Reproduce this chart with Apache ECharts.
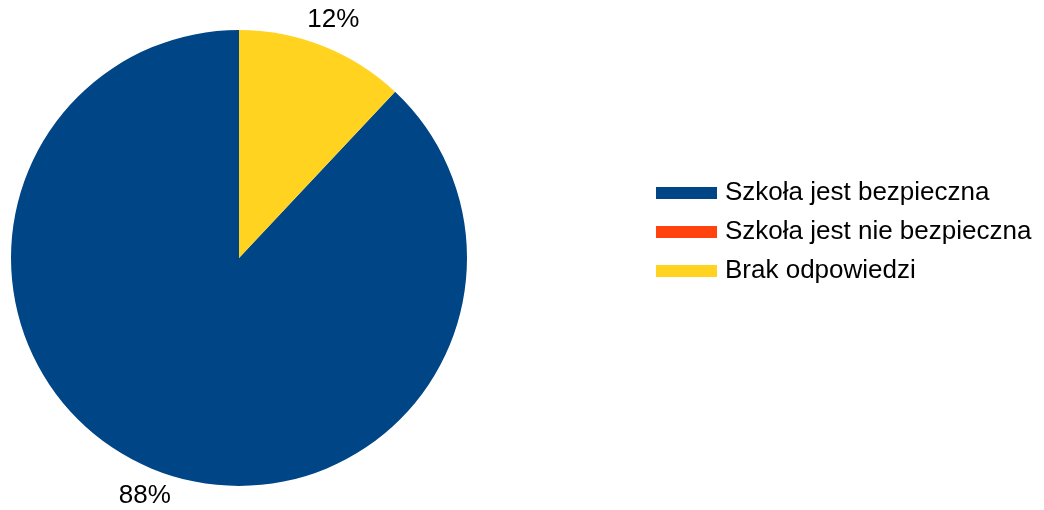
<!DOCTYPE html>
<html>
<head>
<meta charset="utf-8">
<script src="https://cdn.jsdelivr.net/npm/echarts@6/dist/echarts.min.js"></script>
<style>
  html, body { margin: 0; padding: 0; background: #fff; }
  #chart { width: 1044px; height: 510px; }
</style>
</head>
<body>
<div id="chart"></div>
<script>
const categories = ['Szkoła jest bezpieczna', 'Szkoła jest nie bezpieczna', 'Brak odpowiedzi']
const values = [88, 0, 12]
const colors = ['#004586', '#ff420e', '#ffd320']

const chart = echarts.init(document.getElementById('chart'))

const pieData = categories.map((name, i) => ({
  name,
  value: values[i],
  itemStyle: { color: colors[i] },
}))

// transparent outer ring only used to place the percent labels centred outside the pie
const labelData = categories.map((name, i) => ({
  name,
  value: values[i],
  itemStyle: { color: 'transparent' },
  label: { show: values[i] > 0 },
}))

chart.setOption({
  animation: false,
  textStyle: { fontFamily: 'Liberation Sans' },
  legend: {
    orient: 'vertical',
    left: 651,
    top: 175,
    itemWidth: 61,
    itemHeight: 12,
    itemGap: 13,
    icon: 'rect',
    textStyle: { fontSize: 26, lineHeight: 26, color: '#000', fontFamily: 'Liberation Sans', padding: [0, 0, 0, 3] },
    data: categories,
  },
  series: [
    {
      type: 'pie',
      center: [239, 258],
      radius: 228,
      startAngle: 90,
      clockwise: false,
      data: pieData,
      label: { show: false },
      labelLine: { show: false },
      emphasis: { disabled: true },
    },
    {
      type: 'pie',
      silent: true,
      center: [239, 258],
      radius: [228, 278],
      startAngle: 90,
      clockwise: false,
      data: labelData,
      label: {
        position: 'inside',
        formatter: '{c}%',
        fontSize: 26,
        color: '#000',
        fontFamily: 'Liberation Sans',
      },
      labelLine: { show: false },
      emphasis: { disabled: true },
    },
  ],
})
</script>
</body>
</html>
